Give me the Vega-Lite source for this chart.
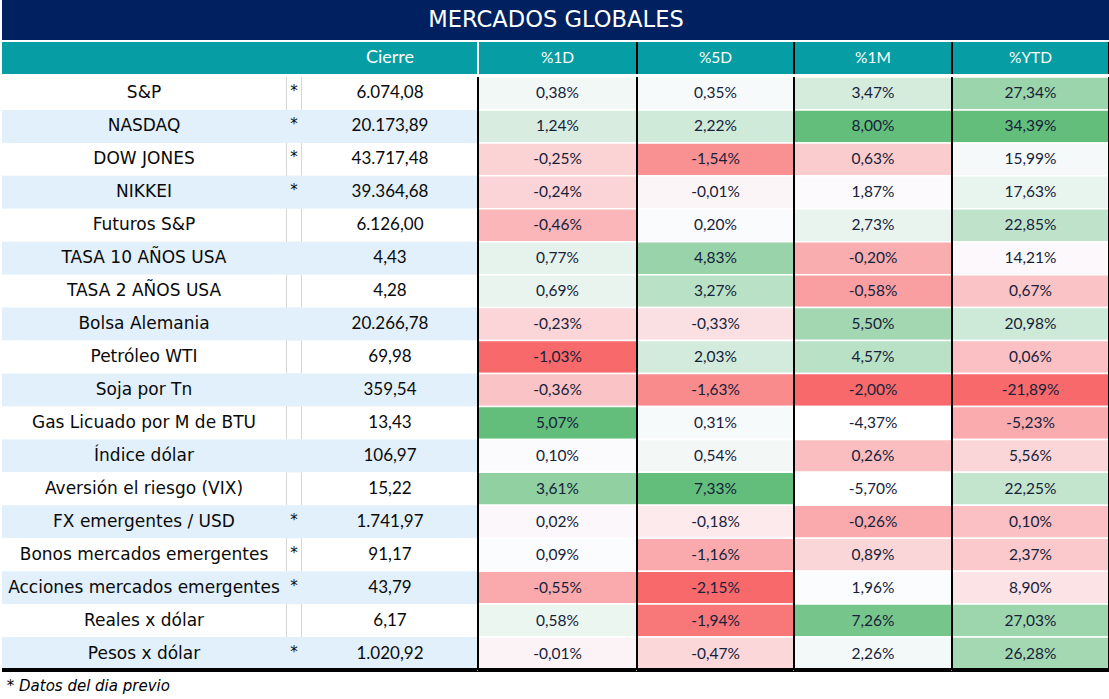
{
  "$schema": "https://vega.github.io/schema/vega-lite/v6.json",
  "padding": {"left": 0, "top": 0, "right": 0, "bottom": 4},
  "background": "#FFFFFF",
  "title": {"text": "* Datos del dia previo", "orient": "bottom", "anchor": "start", "font": "DejaVu Sans", "fontStyle": "italic", "fontWeight": "normal", "fontSize": 15, "color": "#000000", "offset": 8, "dx": 6},
  "datasets": {
    "mercados": [
      {"n": 1, "nombre": "S&P", "ast": "*", "cierre": 6074.08, "d1": 0.0038, "d5": 0.0035, "m1": 0.0347, "ytd": 0.2734},
      {"n": 2, "nombre": "NASDAQ", "ast": "*", "cierre": 20173.89, "d1": 0.0124, "d5": 0.0222, "m1": 0.0800, "ytd": 0.3439},
      {"n": 3, "nombre": "DOW JONES", "ast": "*", "cierre": 43717.48, "d1": -0.0025, "d5": -0.0154, "m1": 0.0063, "ytd": 0.1599},
      {"n": 4, "nombre": "NIKKEI", "ast": "*", "cierre": 39364.68, "d1": -0.0024, "d5": -0.0001, "m1": 0.0187, "ytd": 0.1763},
      {"n": 5, "nombre": "Futuros S&P", "ast": "", "cierre": 6126.00, "d1": -0.0046, "d5": 0.0020, "m1": 0.0273, "ytd": 0.2285},
      {"n": 6, "nombre": "TASA 10 AÑOS USA", "ast": "", "cierre": 4.43, "d1": 0.0077, "d5": 0.0483, "m1": -0.0020, "ytd": 0.1421},
      {"n": 7, "nombre": "TASA 2 AÑOS USA", "ast": "", "cierre": 4.28, "d1": 0.0069, "d5": 0.0327, "m1": -0.0058, "ytd": 0.0067},
      {"n": 8, "nombre": "Bolsa Alemania", "ast": "", "cierre": 20266.78, "d1": -0.0023, "d5": -0.0033, "m1": 0.0550, "ytd": 0.2098},
      {"n": 9, "nombre": "Petróleo WTI", "ast": "", "cierre": 69.98, "d1": -0.0103, "d5": 0.0203, "m1": 0.0457, "ytd": 0.0006},
      {"n": 10, "nombre": "Soja por Tn", "ast": "", "cierre": 359.54, "d1": -0.0036, "d5": -0.0163, "m1": -0.0200, "ytd": -0.2189},
      {"n": 11, "nombre": "Gas Licuado por M de BTU", "ast": "", "cierre": 13.43, "d1": 0.0507, "d5": 0.0031, "m1": -0.0437, "ytd": -0.0523},
      {"n": 12, "nombre": "Índice dólar", "ast": "", "cierre": 106.97, "d1": 0.0010, "d5": 0.0054, "m1": 0.0026, "ytd": 0.0556},
      {"n": 13, "nombre": "Aversión el riesgo (VIX)", "ast": "", "cierre": 15.22, "d1": 0.0361, "d5": 0.0733, "m1": -0.0570, "ytd": 0.2225},
      {"n": 14, "nombre": "FX emergentes / USD", "ast": "*", "cierre": 1741.97, "d1": 0.0002, "d5": -0.0018, "m1": -0.0026, "ytd": 0.0010},
      {"n": 15, "nombre": "Bonos mercados emergentes", "ast": "*", "cierre": 91.17, "d1": 0.0009, "d5": -0.0116, "m1": 0.0089, "ytd": 0.0237},
      {"n": 16, "nombre": "Acciones mercados emergentes", "ast": "*", "cierre": 43.79, "d1": -0.0055, "d5": -0.0215, "m1": 0.0196, "ytd": 0.0890},
      {"n": 17, "nombre": "Reales x dólar", "ast": "", "cierre": 6.17, "d1": 0.0058, "d5": -0.0194, "m1": 0.0726, "ytd": 0.2703},
      {"n": 18, "nombre": "Pesos x dólar", "ast": "*", "cierre": 1020.92, "d1": -0.0001, "d5": -0.0047, "m1": 0.0226, "ytd": 0.2628}
    ]
  },
  "spacing": 1,
  "vconcat": [
    {
      "width": 1108, "height": 40,
      "data": {"values": [{"t": "MERCADOS GLOBALES"}]},
      "layer": [
        {"mark": {"type": "rect", "color": "#002060"}},
        {"mark": {"type": "text", "color": "#FFFFFF", "font": "DejaVu Sans", "fontSize": 22.6},
         "encoding": {
           "x": {"field": "t", "type": "nominal", "axis": null, "scale": {"type": "band", "paddingInner": 0, "paddingOuter": 0}},
           "y": {"field": "t", "type": "nominal", "axis": null, "scale": {"type": "band", "paddingInner": 0, "paddingOuter": 0}},
           "text": {"field": "t"}}}
      ]
    },
    {
      "spacing": 0,
      "bounds": "flush",
      "hconcat": [
        {"width": 284, "height": 32, "data": {"values": [{"t": " "}]},
         "layer": [{"mark": {"type": "rect", "color": "#069EA4"}}]},
        {"width": 16, "height": 32, "data": {"values": [{"t": " "}]},
         "layer": [{"mark": {"type": "rect", "color": "#069EA4"}}]},
        {"width": 176, "height": 32, "data": {"values": [{"t": "Cierre"}]},
         "layer": [
           {"mark": {"type": "rect", "color": "#069EA4"}},
           {"mark": {"type": "text", "color": "#FFFFFF", "font": "Lato", "fontSize": 18},
            "encoding": {
              "x": {"field": "t", "type": "nominal", "axis": null, "scale": {"type": "band", "paddingInner": 0, "paddingOuter": 0}},
              "y": {"field": "t", "type": "nominal", "axis": null, "scale": {"type": "band", "paddingInner": 0, "paddingOuter": 0}},
              "text": {"field": "t"}}}
         ]},
        {"width": 159, "height": 32, "data": {"values": [{"t": "%1D"}]},
         "layer": [
           {"mark": {"type": "rect", "color": "#069EA4"}},
           {"mark": {"type": "text", "color": "#FFFFFF", "font": "Lato", "fontSize": 15.5},
            "encoding": {
              "x": {"field": "t", "type": "nominal", "axis": null, "scale": {"type": "band", "paddingInner": 0, "paddingOuter": 0}},
              "y": {"field": "t", "type": "nominal", "axis": null, "scale": {"type": "band", "paddingInner": 0, "paddingOuter": 0}},
              "text": {"field": "t"}}},
           {"mark": {"type": "rule", "color": "#FFFFFF", "strokeWidth": 2},
            "encoding": {"x": {"field": "t", "type": "nominal", "bandPosition": 0}}}
         ]},
        {"width": 157, "height": 32, "data": {"values": [{"t": "%5D"}]},
         "layer": [
           {"mark": {"type": "rect", "color": "#069EA4"}},
           {"mark": {"type": "text", "color": "#FFFFFF", "font": "Lato", "fontSize": 15.5},
            "encoding": {
              "x": {"field": "t", "type": "nominal", "axis": null, "scale": {"type": "band", "paddingInner": 0, "paddingOuter": 0}},
              "y": {"field": "t", "type": "nominal", "axis": null, "scale": {"type": "band", "paddingInner": 0, "paddingOuter": 0}},
              "text": {"field": "t"}}},
           {"mark": {"type": "rule", "color": "#000000", "strokeWidth": 2},
            "encoding": {"x": {"field": "t", "type": "nominal", "bandPosition": 0}}}
         ]},
        {"width": 158, "height": 32, "data": {"values": [{"t": "%1M"}]},
         "layer": [
           {"mark": {"type": "rect", "color": "#069EA4"}},
           {"mark": {"type": "text", "color": "#FFFFFF", "font": "Lato", "fontSize": 15.5},
            "encoding": {
              "x": {"field": "t", "type": "nominal", "axis": null, "scale": {"type": "band", "paddingInner": 0, "paddingOuter": 0}},
              "y": {"field": "t", "type": "nominal", "axis": null, "scale": {"type": "band", "paddingInner": 0, "paddingOuter": 0}},
              "text": {"field": "t"}}},
           {"mark": {"type": "rule", "color": "#000000", "strokeWidth": 2},
            "encoding": {"x": {"field": "t", "type": "nominal", "bandPosition": 0}}}
         ]},
        {"width": 157, "height": 32, "data": {"values": [{"t": "%YTD"}]},
         "layer": [
           {"mark": {"type": "rect", "color": "#069EA4"}},
           {"mark": {"type": "text", "color": "#FFFFFF", "font": "Lato", "fontSize": 15.5},
            "encoding": {
              "x": {"field": "t", "type": "nominal", "axis": null, "scale": {"type": "band", "paddingInner": 0, "paddingOuter": 0}},
              "y": {"field": "t", "type": "nominal", "axis": null, "scale": {"type": "band", "paddingInner": 0, "paddingOuter": 0}},
              "text": {"field": "t"}}},
           {"mark": {"type": "rule", "color": "#000000", "strokeWidth": 2},
            "encoding": {"x": {"field": "t", "type": "nominal", "bandPosition": 0}}},
           {"mark": {"type": "rule", "color": "#000000", "strokeWidth": 2},
            "encoding": {"x": {"field": "t", "type": "nominal", "bandPosition": 1}}}
         ]}
      ]
    },
    {
      "spacing": 0,
      "bounds": "flush",
      "resolve": {"scale": {"fill": "independent"}},
      "hconcat": [
        {"width": 284, "height": 593, "data": {"name": "mercados"},
         "layer": [
           {"mark": {"type": "rect"},
            "encoding": {
              "y": {"field": "n", "type": "ordinal", "axis": null, "scale": {"type": "band", "paddingInner": 0, "paddingOuter": 0}},
              "fill": {"condition": {"test": "datum.n % 2 == 0", "value": "#E2F0FB"}, "value": "#FFFFFF"}}},
           {"mark": {"type": "text", "color": "#0A0A0A", "font": "DejaVu Sans", "fontSize": 17},
            "encoding": {
              "x": {"datum": "c", "type": "nominal", "axis": null, "scale": {"type": "band", "paddingInner": 0, "paddingOuter": 0}},
              "y": {"field": "n", "type": "ordinal", "axis": null},
              "text": {"field": "nombre"}}},
           {"mark": {"type": "rule", "color": "#000000", "strokeWidth": 2.5},
            "encoding": {"y": {"datum": 18, "type": "ordinal", "bandPosition": 1}}}
         ]},
        {"width": 16, "height": 593, "data": {"name": "mercados"},
         "layer": [
           {"mark": {"type": "rect"},
            "encoding": {
              "y": {"field": "n", "type": "ordinal", "axis": null, "scale": {"type": "band", "paddingInner": 0, "paddingOuter": 0}},
              "fill": {"condition": {"test": "datum.n % 2 == 0", "value": "#E2F0FB"}, "value": "#D6D6D6"}}},
           {"mark": {"type": "rect"},
            "encoding": {
              "x": {"datum": "c", "type": "nominal", "axis": null, "scale": {"type": "band", "paddingInner": 0, "paddingOuter": 0.07}},
              "y": {"field": "n", "type": "ordinal", "axis": null},
              "fill": {"condition": {"test": "datum.n % 2 == 0", "value": "#E2F0FB"}, "value": "#FFFFFF"}}},
           {"mark": {"type": "text", "color": "#0A0A0A", "font": "DejaVu Sans", "fontSize": 15, "dy": -2},
            "encoding": {
              "x": {"datum": "c", "type": "nominal", "axis": null},
              "y": {"field": "n", "type": "ordinal", "axis": null},
              "text": {"field": "ast"}}},
           {"mark": {"type": "rule", "color": "#000000", "strokeWidth": 2.5},
            "encoding": {"y": {"datum": 18, "type": "ordinal", "bandPosition": 1}}}
         ]},
        {"width": 176, "height": 593, "data": {"name": "mercados"},
         "layer": [
           {"mark": {"type": "rect"},
            "encoding": {
              "y": {"field": "n", "type": "ordinal", "axis": null, "scale": {"type": "band", "paddingInner": 0, "paddingOuter": 0}},
              "fill": {"condition": {"test": "datum.n % 2 == 0", "value": "#E2F0FB"}, "value": "#FFFFFF"}}},
           {"mark": {"type": "text", "color": "#0A0A0A", "font": "Lato", "fontSize": 17},
            "encoding": {
              "x": {"datum": "c", "type": "nominal", "axis": null, "scale": {"type": "band", "paddingInner": 0, "paddingOuter": 0}},
              "y": {"field": "n", "type": "ordinal", "axis": null},
              "text": {"field": "cierre", "type": "quantitative", "format": ",.2f"}}},
           {"mark": {"type": "rule", "color": "#000000", "strokeWidth": 2.5},
            "encoding": {"y": {"datum": 18, "type": "ordinal", "bandPosition": 1}}}
         ]},
        {"width": 159, "height": 593, "data": {"name": "mercados"},
         "layer": [
           {"mark": {"type": "rect", "stroke": "#FFFFFF", "strokeWidth": 1.5},
            "encoding": {
              "y": {"field": "n", "type": "ordinal", "axis": null, "scale": {"type": "band", "paddingInner": 0, "paddingOuter": 0}},
              "fill": {"field": "d1", "type": "quantitative", "legend": null,
                       "scale": {"domain": [-0.0103, 0.00055, 0.0507], "range": ["#F8696B", "#FCFCFF", "#63BE7B"], "interpolate": "rgb"}}}},
           {"mark": {"type": "text", "color": "#16213A", "font": "Lato", "fontSize": 15.5},
            "encoding": {
              "x": {"datum": "c", "type": "nominal", "axis": null, "scale": {"type": "band", "paddingInner": 0, "paddingOuter": 0}},
              "y": {"field": "n", "type": "ordinal", "axis": null},
              "text": {"field": "d1", "type": "quantitative", "format": ".2%"}}},
           {"mark": {"type": "rule", "color": "#000000", "strokeWidth": 2},
            "encoding": {"x": {"datum": "c", "type": "nominal", "bandPosition": 0}}},
           {"mark": {"type": "rule", "color": "#000000", "strokeWidth": 2.5},
            "encoding": {"y": {"datum": 18, "type": "ordinal", "bandPosition": 1}}}
         ]},
        {"width": 157, "height": 593, "data": {"name": "mercados"},
         "layer": [
           {"mark": {"type": "rect", "stroke": "#FFFFFF", "strokeWidth": 1.5},
            "encoding": {
              "y": {"field": "n", "type": "ordinal", "axis": null, "scale": {"type": "band", "paddingInner": 0, "paddingOuter": 0}},
              "fill": {"field": "d5", "type": "quantitative", "legend": null,
                       "scale": {"domain": [-0.0215, 0.00095, 0.0733], "range": ["#F8696B", "#FCFCFF", "#63BE7B"], "interpolate": "rgb"}}}},
           {"mark": {"type": "text", "color": "#16213A", "font": "Lato", "fontSize": 15.5},
            "encoding": {
              "x": {"datum": "c", "type": "nominal", "axis": null, "scale": {"type": "band", "paddingInner": 0, "paddingOuter": 0}},
              "y": {"field": "n", "type": "ordinal", "axis": null},
              "text": {"field": "d5", "type": "quantitative", "format": ".2%"}}},
           {"mark": {"type": "rule", "color": "#000000", "strokeWidth": 2},
            "encoding": {"x": {"datum": "c", "type": "nominal", "bandPosition": 0}}},
           {"mark": {"type": "rule", "color": "#000000", "strokeWidth": 2.5},
            "encoding": {"y": {"datum": 18, "type": "ordinal", "bandPosition": 1}}}
         ]},
        {"width": 158, "height": 593, "data": {"name": "mercados"},
         "layer": [
           {"mark": {"type": "rect", "stroke": "#FFFFFF", "strokeWidth": 1.5},
            "encoding": {
              "y": {"field": "n", "type": "ordinal", "axis": null, "scale": {"type": "band", "paddingInner": 0, "paddingOuter": 0}},
              "fill": {"condition": {"test": "datum.m1 < -0.04", "value": "#FFFFFF"},
                       "field": "m1", "type": "quantitative", "legend": null,
                       "scale": {"domain": [-0.02, 0.01915, 0.08], "range": ["#F8696B", "#FCFCFF", "#63BE7B"], "interpolate": "rgb"}}}},
           {"mark": {"type": "text", "color": "#16213A", "font": "Lato", "fontSize": 15.5},
            "encoding": {
              "x": {"datum": "c", "type": "nominal", "axis": null, "scale": {"type": "band", "paddingInner": 0, "paddingOuter": 0}},
              "y": {"field": "n", "type": "ordinal", "axis": null},
              "text": {"field": "m1", "type": "quantitative", "format": ".2%"}}},
           {"mark": {"type": "rule", "color": "#000000", "strokeWidth": 2},
            "encoding": {"x": {"datum": "c", "type": "nominal", "bandPosition": 0}}},
           {"mark": {"type": "rule", "color": "#000000", "strokeWidth": 2.5},
            "encoding": {"y": {"datum": 18, "type": "ordinal", "bandPosition": 1}}}
         ]},
        {"width": 157, "height": 593, "data": {"name": "mercados"},
         "layer": [
           {"mark": {"type": "rect", "stroke": "#FFFFFF", "strokeWidth": 1.5},
            "encoding": {
              "y": {"field": "n", "type": "ordinal", "axis": null, "scale": {"type": "band", "paddingInner": 0, "paddingOuter": 0}},
              "fill": {"field": "ytd", "type": "quantitative", "legend": null,
                       "scale": {"domain": [-0.2189, 0.151, 0.3439], "range": ["#F8696B", "#FCFCFF", "#63BE7B"], "interpolate": "rgb"}}}},
           {"mark": {"type": "text", "color": "#16213A", "font": "Lato", "fontSize": 15.5},
            "encoding": {
              "x": {"datum": "c", "type": "nominal", "axis": null, "scale": {"type": "band", "paddingInner": 0, "paddingOuter": 0}},
              "y": {"field": "n", "type": "ordinal", "axis": null},
              "text": {"field": "ytd", "type": "quantitative", "format": ".2%"}}},
           {"mark": {"type": "rule", "color": "#000000", "strokeWidth": 2},
            "encoding": {"x": {"datum": "c", "type": "nominal", "bandPosition": 0}}},
           {"mark": {"type": "rule", "color": "#000000", "strokeWidth": 2},
            "encoding": {"x": {"datum": "c", "type": "nominal", "bandPosition": 1}}},
           {"mark": {"type": "rule", "color": "#000000", "strokeWidth": 2.5},
            "encoding": {"y": {"datum": 18, "type": "ordinal", "bandPosition": 1}}}
         ]}
      ]
    }
  ],
  "config": {
    "view": {"stroke": null},
    "concat": {"spacing": 0},
    "locale": {"number": {"decimal": ",", "thousands": ".", "grouping": [3], "currency": ["$", ""], "minus": "-", "percent": "%"}}
  }
}
